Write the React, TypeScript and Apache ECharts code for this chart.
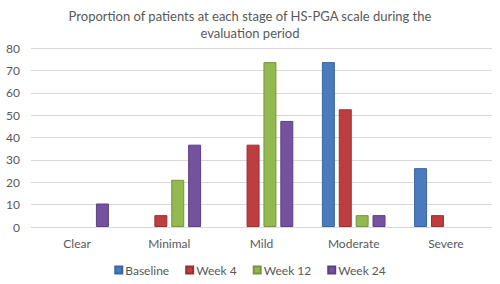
import React, { useEffect, useRef } from "react";
import * as echarts from "echarts";

const titleText = "Proportion of patients at each stage of HS-PGA scale during the\nevaluation period";
const categories = ["Clear", "Minimal", "Mild", "Moderate", "Severe"];
const seriesNames = ["Baseline", "Week 4", "Week 12", "Week 24"];
const baseline = [0, 0, 0, 73.7, 26.3];
const week4 = [0, 5.3, 36.8, 52.6, 5.3];
const week12 = [0, 21.1, 73.7, 5.3, 0];
const week24 = [10.5, 36.8, 47.4, 5.3, 0];
const yTicks = { min: 0, max: 80, interval: 10 };

const fills = ["#4A7BBF", "#BE3D3F", "#92B850", "#7552A0"];
const borders = ["#3A659F", "#9A2F31", "#76963F", "#5C3F80"];

export default function App() {
  const ref = useRef<HTMLDivElement>(null);
  useEffect(() => {
    document.body.style.margin = "0";
    if (!ref.current) return;
    const chart = echarts.init(ref.current, null, { renderer: "svg" });
    const data = [baseline, week4, week12, week24];
    const font = "Lato, 'Open Sans', sans-serif";
    chart.setOption({
      animation: false,
      textStyle: { fontFamily: font },
      title: {
        text: titleText,
        left: "center",
        top: 2,
        textStyle: { fontSize: 13, fontWeight: "normal", color: "#595959", lineHeight: 17, fontFamily: font },
      },
      legend: {
        data: seriesNames,
        bottom: 3,
        left: "center",
        itemWidth: 7,
        itemHeight: 7,
        itemGap: 16,
        icon: "rect",
        textStyle: { fontSize: 12, color: "#595959", padding: [0, 0, 0, -2] },
      },
      grid: { left: 31, right: 8, top: 48, bottom: 57, containLabel: false },
      xAxis: {
        type: "category",
        data: categories,
        axisLine: { lineStyle: { color: "#d9d9d9" } },
        axisTick: { show: false },
        axisLabel: { color: "#595959", fontSize: 12, margin: 10 },
      },
      yAxis: {
        type: "value",
        min: yTicks.min,
        max: yTicks.max,
        interval: yTicks.interval,
        axisLine: { show: false },
        axisTick: { show: false },
        splitLine: { lineStyle: { color: "#d9d9d9" } },
        axisLabel: { color: "#595959", fontSize: 12, margin: 11 },
      },
      series: seriesNames.map((name, i) => ({
        name,
        type: "bar",
        data: data[i].map((v) => (v === 0 ? null : v)),
        barGap: "30%",
        barCategoryGap: "31%",
        itemStyle: { color: fills[i], borderColor: borders[i], borderWidth: 1 },
      })),
    });
    return () => chart.dispose();
  }, []);
  return <div ref={ref} style={{ width: 500, height: 284 }} />;
}
